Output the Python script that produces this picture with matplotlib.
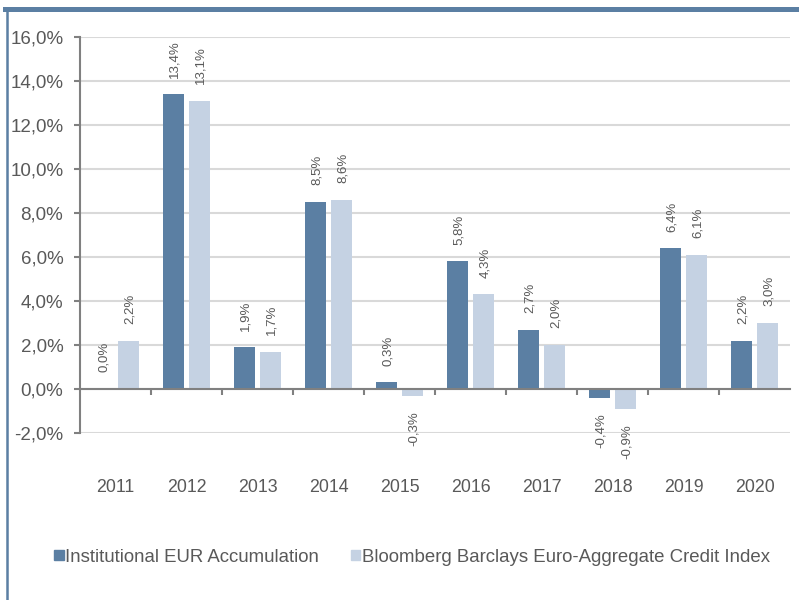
import numpy as np
import matplotlib
matplotlib.use("Agg")
import matplotlib.pyplot as plt
from matplotlib.lines import Line2D
from matplotlib.patches import Patch

years = ['2011', '2012', '2013', '2014', '2015', '2016', '2017', '2018', '2019', '2020']
fundReturns = [0.0, 13.4, 1.9, 8.5, 0.3, 5.8, 2.7, -0.4, 6.4, 2.2]
indexReturns = [2.2, 13.1, 1.7, 8.6, -0.3, 4.3, 2.0, -0.9, 6.1, 3.0]
seriesNames = ['Institutional EUR Accumulation', 'Bloomberg Barclays Euro-Aggregate Credit Index']

darkBlue = '#5b7fa3'
lightBlue = '#c5d2e3'
textGray = '#595959'

plt.rcParams['font.family'] = ['Liberation Sans', 'DejaVu Sans']

fig = plt.figure(figsize=(7.99, 6), dpi=100)
ax = fig.add_axes([80 / 799, 1 - 433 / 600, 710 / 799, 396 / 600])

x = np.arange(len(years))
barWidth = 0.3
offset = 0.183

ax.bar(x - offset, fundReturns, width=barWidth, color=darkBlue, zorder=3)
ax.bar(x + offset, indexReturns, width=barWidth, color=lightBlue, zorder=3)


def fmt(v):
    return f"{v:.1f}%".replace('.', ',')


for xs, vals in [(x - offset, fundReturns), (x + offset, indexReturns)]:
    for xi, v in zip(xs, vals):
        if v >= 0:
            ax.annotate(fmt(v), (xi, v), xytext=(1, 12), textcoords='offset points',
                        rotation=90, ha='center', va='bottom', fontsize=9.5, color=textGray)
        else:
            ax.annotate(fmt(v), (xi, v), xytext=(1, -11), textcoords='offset points',
                        rotation=90, ha='center', va='top', fontsize=9.5, color=textGray)

ax.set_xlim(-0.5, len(years) - 0.5)
ax.set_ylim(-2, 16)
ax.set_yticks(np.arange(-2, 17, 2))
ax.set_yticklabels([fmt(v) for v in np.arange(-2, 17, 2)])
ax.yaxis.grid(True, color='#d9d9d9', linewidth=1.5, zorder=0)

ax.spines['top'].set_visible(False)
ax.spines['right'].set_visible(False)
ax.spines['left'].set_color('#808080')
ax.spines['left'].set_linewidth(1.5)
ax.spines['bottom'].set_position(('data', 0))
ax.spines['bottom'].set_color('#808080')
ax.spines['bottom'].set_linewidth(1.5)
ax.spines['bottom'].set_zorder(4)

ax.set_xticks(x)
ax.set_xticklabels(years)
ax.set_xticks(np.arange(0.5, len(years) - 0.5, 1), minor=True)
ax.tick_params(axis='x', which='major', length=0, pad=65, labelsize=12.8, labelcolor=textGray)
ax.tick_params(axis='x', which='minor', length=4, width=1.5, color='#808080', direction='out')
ax.tick_params(axis='y', length=4, width=1.5, color='#808080', labelsize=13.5, labelcolor=textGray, pad=8)

handles = [Patch(color=darkBlue), Patch(color=lightBlue)]
fig.legend(handles, seriesNames, loc='center', bbox_to_anchor=(0.516, 1 - 557 / 600), ncol=2,
           frameon=False, fontsize=13.4, labelcolor=textGray, handlelength=0.5, handleheight=0.5,
           handletextpad=0.1, columnspacing=1.7)

fig.add_artist(Line2D([5 / 799, 1], [1 - 9 / 600, 1 - 9 / 600], color=darkBlue, linewidth=3.6,
                      transform=fig.transFigure))
fig.add_artist(Line2D([7 / 799, 7 / 799], [0, 1 - 9 / 600], color=darkBlue, linewidth=1.8,
                      transform=fig.transFigure))

fig.savefig('out.png', dpi=100)
